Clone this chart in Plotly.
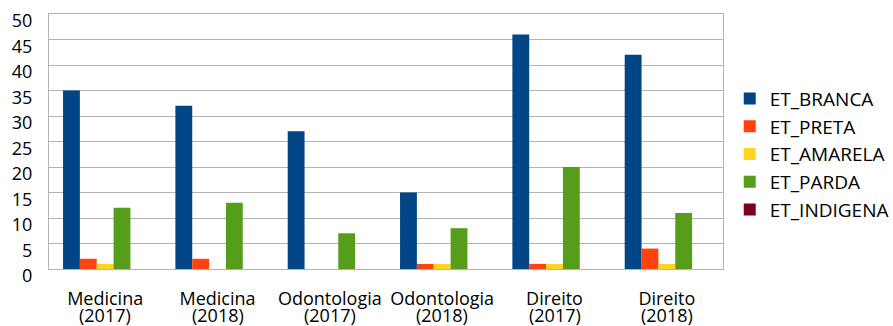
import plotly.graph_objects as go

# Courses and years (one category per course/year pair)
courses = ["Medicina", "Medicina", "Odontologia", "Odontologia", "Direito", "Direito"]
years = ["(2017)", "(2018)", "(2017)", "(2018)", "(2017)", "(2018)"]
categories = [f"{c} {y}" for c, y in zip(courses, years)]

# Student counts per ethnicity
et_branca = [35, 32, 27, 15, 46, 42]
et_preta = [2, 2, 0, 1, 1, 4]
et_amarela = [1, 0, 0, 1, 1, 1]
et_parda = [12, 13, 7, 8, 20, 11]
et_indigena = [0, 0, 0, 0, 0, 0]

series = [
    ("ET_BRANCA", et_branca, "#004586"),
    ("ET_PRETA", et_preta, "#ff420e"),
    ("ET_AMARELA", et_amarela, "#ffd320"),
    ("ET_PARDA", et_parda, "#579d1c"),
    ("ET_INDIGENA", et_indigena, "#7e0021"),
]

fig = go.Figure()
for name, vals, color in series:
    fig.add_trace(go.Bar(x=categories, y=vals, name=name, legendgroup=name,
                         marker=dict(color=color, line=dict(width=0))))

font = "Open Sans, Liberation Sans, sans-serif"

# Year shown on a second, tightly spaced line under each course name
for cat, yr in zip(categories, years):
    fig.add_annotation(x=cat, y=0, xref="x", yref="paper", text=yr,
                       showarrow=False, yanchor="top", yshift=-32,
                       font=dict(size=18, family=font, color="#000000"))

fig.update_layout(
    width=893, height=326,
    margin=dict(l=49, r=170, t=14, b=57, autoexpand=False),
    barmode="group", bargap=0.25, bargroupgap=0,
    plot_bgcolor="white", paper_bgcolor="white",
    font=dict(family=font, size=17, color="#000000"),
    legend=dict(x=1.01, y=0.45, xanchor="left", yanchor="middle",
                font=dict(size=19), itemwidth=30,
                traceorder="grouped", tracegroupgap=0),
    xaxis=dict(showgrid=False, showline=True, linecolor="#b3b3b3", linewidth=1,
               mirror=True, ticks="", tickfont=dict(size=18), tickangle=0,
               tickvals=categories, ticktext=courses,
               ticklabelstandoff=13, automargin=False),
    yaxis=dict(range=[0, 50], dtick=5, showgrid=True, gridcolor="#b3b3b3",
               gridwidth=1, showline=True, linecolor="#b3b3b3", linewidth=1,
               mirror=True, ticks="", tickfont=dict(size=18), zeroline=False,
               ticklabelstandoff=12, ticklabelshift=7,
               ticklabeloverflow="allow", automargin=False),
)

fig.write_html("out.html")
